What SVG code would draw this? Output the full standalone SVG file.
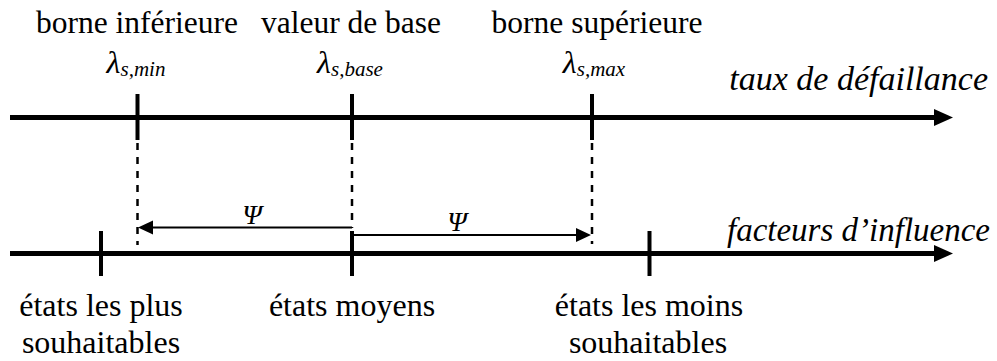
<svg xmlns="http://www.w3.org/2000/svg" width="997" height="361" viewBox="0 0 997 361">
<style>
.axis{stroke:#000;stroke-width:5;fill:none}
.tick{stroke:#000;stroke-width:4;fill:none}
.dash{stroke:#000;stroke-width:2.5;stroke-dasharray:7 7;fill:none}
.thin{stroke:#000;stroke-width:2;fill:none}
</style>
<rect width="997" height="361" fill="#fff"/>
<g id="connectors">
  <line class="axis" x1="10" y1="117.5" x2="936" y2="117.5"/>
  <polygon points="934,109 953,117.5 934,126" fill="#000"/>
  <line class="axis" x1="10" y1="253.5" x2="936" y2="253.5"/>
  <polygon points="934,245 953,253.5 934,262" fill="#000"/>
  <line class="dash" x1="137.5" y1="143" x2="137.5" y2="245"/>
  <line class="dash" x1="352" y1="143" x2="352" y2="228"/>
  <line class="dash" x1="592" y1="143" x2="592" y2="244"/>
  <line class="thin" x1="352" y1="227.5" x2="150" y2="227.5"/>
  <polygon points="138,227.5 153,220.5 153,234.5" fill="#000"/>
  <line class="thin" x1="352" y1="235" x2="578" y2="235"/>
  <polygon points="591,235 576,228 576,242" fill="#000"/>
</g>
<g id="lambda-min">
  <line class="tick" x1="137.5" y1="94" x2="137.5" y2="140"/>
  <text font-family="'Liberation Serif', 'Times New Roman', serif" font-size="31.5" x="137" y="33" text-anchor="middle">borne inférieure</text>
  <text font-family="'Liberation Serif', 'Times New Roman', serif" font-style="italic" x="136" y="73" text-anchor="middle" font-size="32">λ<tspan font-size="21" dy="3">s,min</tspan></text>
</g>
<g id="lambda-base">
  <line class="tick" x1="352" y1="94" x2="352" y2="140"/>
  <text font-family="'Liberation Serif', 'Times New Roman', serif" font-size="31.5" x="351" y="33" text-anchor="middle">valeur de base</text>
  <text font-family="'Liberation Serif', 'Times New Roman', serif" font-style="italic" x="350" y="73" text-anchor="middle" font-size="32">λ<tspan font-size="21" dy="3">s,base</tspan></text>
</g>
<g id="lambda-max">
  <line class="tick" x1="592" y1="94" x2="592" y2="140"/>
  <text font-family="'Liberation Serif', 'Times New Roman', serif" font-size="31.5" x="597" y="33" text-anchor="middle">borne supérieure</text>
  <text font-family="'Liberation Serif', 'Times New Roman', serif" font-style="italic" x="594" y="73" text-anchor="middle" font-size="32">λ<tspan font-size="21" dy="3">s,max</tspan></text>
</g>
<g id="axis-taux">
  <text font-family="'Liberation Serif', 'Times New Roman', serif" font-style="italic" x="988" y="90" text-anchor="end" font-size="34">taux de défaillance</text>
</g>
<g id="axis-facteurs">
  <text font-family="'Liberation Serif', 'Times New Roman', serif" font-style="italic" x="990" y="241" text-anchor="end" font-size="33">facteurs d’influence</text>
</g>
<g id="psi-left">
  <text font-family="'Liberation Serif', 'Times New Roman', serif" font-style="italic" x="252" y="224" text-anchor="middle" font-size="28">Ψ</text>
</g>
<g id="psi-right">
  <text font-family="'Liberation Serif', 'Times New Roman', serif" font-style="italic" x="457" y="231" text-anchor="middle" font-size="28">Ψ</text>
</g>
<g id="etats-plus">
  <line class="tick" x1="101" y1="231" x2="101" y2="276"/>
  <text font-family="'Liberation Serif', 'Times New Roman', serif" x="101" y="316" text-anchor="middle" font-size="32">états les plus</text>
  <text font-family="'Liberation Serif', 'Times New Roman', serif" x="101" y="353" text-anchor="middle" font-size="32">souhaitables</text>
</g>
<g id="etats-moyens">
  <line class="tick" x1="352" y1="231" x2="352" y2="276"/>
  <text font-family="'Liberation Serif', 'Times New Roman', serif" x="352" y="316" text-anchor="middle" font-size="32">états moyens</text>
</g>
<g id="etats-moins">
  <line class="tick" x1="649.5" y1="231" x2="649.5" y2="276"/>
  <text font-family="'Liberation Serif', 'Times New Roman', serif" x="649" y="316" text-anchor="middle" font-size="32">états les moins</text>
  <text font-family="'Liberation Serif', 'Times New Roman', serif" x="648" y="353" text-anchor="middle" font-size="32">souhaitables</text>
</g>
</svg>
